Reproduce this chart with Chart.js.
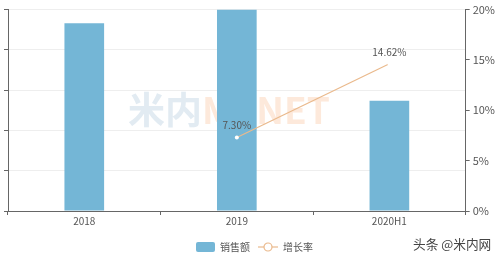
<!DOCTYPE html>
<html lang="zh">
<head>
  <meta charset="UTF-8" />
  <title>销售额与增长率</title>
  <script src="https://cdn.jsdelivr.net/npm/chart.js@4.4.0/dist/chart.umd.min.js"></script>
  <style>
    html, body { margin: 0; padding: 0; background: #fff; }
    #wrap { position: relative; width: 500px; height: 255px; }
    #mark { position: absolute; left: 413px; top: 234px; font: 12.7px "Noto Sans CJK SC"; color: #444; white-space: nowrap; }
  </style>
</head>
<body>
  <div id="wrap">
    <canvas id="myChart" width="500" height="255"></canvas>
    <div id="mark">头条 @米内网</div>
  </div>

  <script>
    // 数据
    const labels = ['2018', '2019', '2020H1'];
    const sales = [233, 250, 137];          // 左轴无刻度文字, 按柱高估算
    const growth = [null, 7.30, 14.62];     // 增长率 %
    const rateTicks = [0, 5, 10, 15, 20];

    const barColor = '#74b6d6';
    const lineColor = '#eab98c';
    const font = '"Noto Sans CJK SC", "Noto Sans", sans-serif';

    // 图例图标 (左侧留 6px 空白当作项间距)
    function makeIcon(w, h, draw) {
      const c = document.createElement('canvas');
      c.width = w; c.height = h;
      draw(c.getContext('2d'));
      return c;
    }
    const barIcon = makeIcon(26, 10, (ctx) => {
      ctx.fillStyle = barColor;
      ctx.beginPath();
      ctx.roundRect(7, 0, 19, 10, 2);
      ctx.fill();
    });
    const lineIcon = makeIcon(26, 10, (ctx) => {
      ctx.strokeStyle = lineColor;
      ctx.lineWidth = 1.2;
      ctx.beginPath(); ctx.moveTo(6, 5); ctx.lineTo(26, 5); ctx.stroke();
      ctx.fillStyle = '#fff';
      ctx.beginPath(); ctx.arc(16, 5, 4, 0, Math.PI * 2); ctx.fill(); ctx.stroke();
    });

    // 背景水印
    const watermark = {
      id: 'watermark',
      beforeDatasetsDraw(chart) {
        const ctx = chart.ctx;
        ctx.save();
        ctx.font = 'bold 37px ' + font;
        ctx.textBaseline = 'middle';
        ctx.fillStyle = '#e2ebf2';
        ctx.fillText('米内', 128, 110);
        const w = ctx.measureText('米内').width;
        ctx.fillStyle = '#fde9db';
        ctx.fillText('MENET', 128 + w, 110);
        ctx.restore();
      }
    };

    // 折线数值标签
    const valueLabels = {
      id: 'valueLabels',
      afterDatasetsDraw(chart) {
        const ctx = chart.ctx;
        const meta = chart.getDatasetMeta(1);
        ctx.save();
        ctx.font = '10px ' + font;
        ctx.fillStyle = '#555';
        ctx.textAlign = 'center';
        ctx.textBaseline = 'middle';
        meta.data.forEach((pt, i) => {
          if (growth[i] == null) return;
          ctx.fillText(growth[i].toFixed(2) + '%', pt.x, pt.y - 12);
        });
        ctx.restore();
      }
    };

    const config = {
      type: 'bar',
      data: {
        labels: labels,
        datasets: [{
          label: '销售额',
          data: sales,
          backgroundColor: barColor,
          categoryPercentage: 1,
          barPercentage: 0.26,
          yAxisID: 'y',
          order: 2
        }, {
          type: 'line',
          label: '增长率',
          data: growth,
          borderColor: lineColor,
          borderWidth: 1.2,
          pointRadius: 2,
          pointBackgroundColor: '#fff',
          pointBorderWidth: 0,
          yAxisID: 'y1',
          order: 1
        }]
      },
      options: {
        responsive: false,
        animation: false,
        layout: { padding: { left: 4, right: 2, top: 0, bottom: -7 } },
        scales: {
          x: {
            grid: { drawOnChartArea: false, tickLength: 4, tickColor: '#666' },
            border: { color: '#666' },
            ticks: { color: '#555', font: { size: 10, family: font }, padding: 0 },
            afterFit: (s) => { s.height = 29; }
          },
          y: {
            position: 'left',
            min: 0, max: 250,
            ticks: { display: false, stepSize: 50 },
            grid: { color: '#eeeeee', tickLength: 4, tickColor: '#666' },
            border: { color: '#666' }
          },
          y1: {
            position: 'right',
            min: 0, max: 20,
            afterBuildTicks: (s) => { s.ticks = rateTicks.map(v => ({ value: v })); },
            ticks: { color: '#555', font: { size: 11, family: font }, padding: 3, callback: (v) => v + '%' },
            grid: { drawOnChartArea: false, tickLength: 4, tickColor: '#666' },
            border: { color: '#666' }
          }
        },
        plugins: {
          tooltip: { enabled: false },
          legend: {
            position: 'bottom',
            labels: {
              usePointStyle: true,
              pointStyleWidth: 26,
              boxHeight: 10,
              padding: 2,
              color: '#555',
              font: { size: 10, family: font },
              generateLabels: (chart) => {
                const items = Chart.defaults.plugins.legend.labels.generateLabels(chart);
                items.sort((a, b) => a.datasetIndex - b.datasetIndex);
                items.forEach(it => { it.pointStyle = it.datasetIndex === 0 ? barIcon : lineIcon; });
                return items;
              }
            }
          }
        }
      },
      plugins: [watermark, valueLabels]
    };

    const myChart = new Chart(document.getElementById('myChart'), config);
  </script>
</body>
</html>
